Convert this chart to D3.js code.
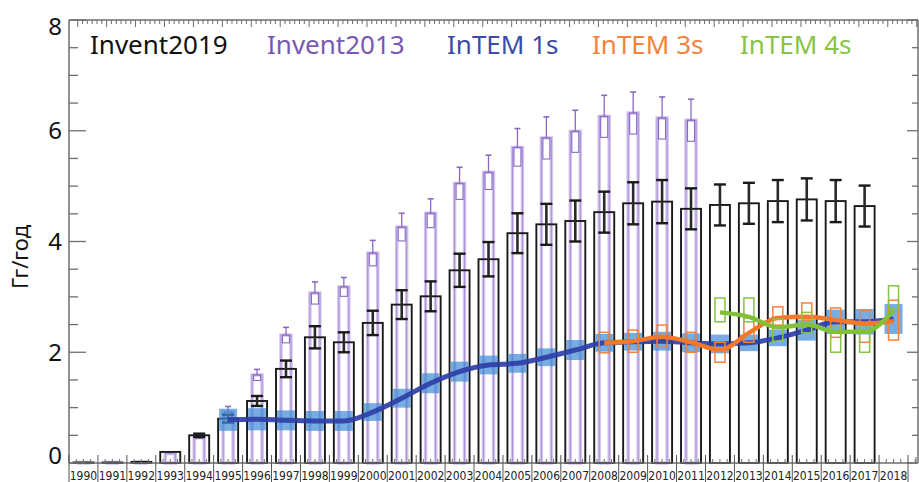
<!DOCTYPE html>
<html>
<head>
<meta charset="utf-8">
<script src="https://cdn.jsdelivr.net/npm/d3@7"></script>
<style>
  html, body { margin: 0; padding: 0; background: #fff; }
  svg { display: block; }
</style>
</head>
<body>
<svg id="chart" width="919" height="482"></svg>
<script>
// Annual emissions (Gg/yr): inventory bars and InTEM inversion estimates
const years = ["1990","1991","1992","1993","1994","1995","1996","1997","1998","1999",
               "2000","2001","2002","2003","2004","2005","2006","2007","2008","2009",
               "2010","2011","2012","2013","2014","2015","2016","2017","2018"];

// Invent2019 (1990–2017)
const invent2019 = [0.01,0.01,0.02,0.2,0.5,0.8,1.12,1.7,2.27,2.18,
                    2.53,2.86,3.01,3.48,3.68,4.15,4.31,4.37,4.53,4.69,
                    4.72,4.59,4.66,4.69,4.73,4.76,4.73,4.64];
const invent2019Err = [0,0,0,0.02,0.03,0.07,0.09,0.15,0.2,0.18,
                       0.22,0.26,0.27,0.3,0.31,0.36,0.37,0.37,0.37,0.38,
                       0.39,0.37,0.37,0.37,0.38,0.38,0.38,0.37];

// Invent2013 (1990–2011)
const invent2013 = [0.01,0.01,0.02,0.17,0.48,0.92,1.59,2.31,3.07,3.18,
                    3.79,4.26,4.51,5.05,5.25,5.7,5.87,5.99,6.26,6.32,
                    6.23,6.19];
const invent2013Err = [0,0,0.01,0.02,0.04,0.1,0.1,0.14,0.2,0.17,
                       0.23,0.25,0.26,0.29,0.31,0.34,0.38,0.38,0.38,0.38,
                       0.38,0.38];

// InTEM 1s (1995–2018)
const intem1sYears = years.slice(5);
const intem1s = [0.78,0.79,0.77,0.76,0.76,0.92,1.17,1.44,1.65,1.77,
                 1.8,1.91,2.04,2.17,2.19,2.2,2.17,2.15,2.17,2.26,
                 2.4,2.55,2.55,2.6];
const intem1sErr = [0.2,0.2,0.18,0.18,0.18,0.16,0.17,0.18,0.18,0.17,
                    0.17,0.16,0.18,0.16,0.16,0.17,0.17,0.17,0.15,0.15,
                    0.19,0.22,0.23,0.27];

// InTEM 3s (2008–2018)
const intem3sYears = years.slice(18);
const intem3s = [2.17,2.2,2.28,2.18,2.04,2.35,2.62,2.64,2.58,2.52,2.56];
const intem3sLow = [1.99,2.0,2.09,2.0,1.82,2.18,2.49,2.58,2.27,2.18,2.22];
const intem3sHigh = [2.36,2.4,2.49,2.36,2.18,2.62,2.82,2.89,2.8,2.76,2.94];

// InTEM 4s (2012–2018)
const intem4sYears = years.slice(22);
const intem4s = [2.72,2.64,2.45,2.5,2.37,2.37,2.76];
const intem4sLow = [2.55,2.55,2.2,2.35,2.0,2.0,2.8];
const intem4sHigh = [2.98,2.98,2.6,2.72,2.45,2.45,3.2];

const yTicks = [0, 2, 4, 6, 8];
const yTitle = "Гг/год";

const legendItems = ["Invent2019", "Invent2013", "InTEM 1s", "InTEM 3s", "InTEM 4s"];
const legendColors = ["#111111", "#7b57b4", "#3b4ba9", "#f4823a", "#86c443"];

// ---- layout ----
const svg = d3.select("#chart");
const plotL = 69, plotR = 918, plotT = 20, plotB = 463, bandR = 908;

const x = d3.scaleBand().domain(years).range([plotL, bandR]).padding(0);
const y = d3.scaleLinear().domain([0, 8]).range([plotB, plotT]);
const bw = x.bandwidth();
const cx = d => x(d) + bw / 2;

const axisColor = "#6e6e6e";

// ---- Invent2013 bars (purple) ----
const g13 = svg.append("g");
invent2013.forEach((v, i) => {
  const c = cx(years[i]);
  const e = invent2013Err[i];
  const h = Math.max(y(0) - y(v), 0.5);
  // soft outer edges
  g13.append("rect").attr("x", c - 5).attr("y", y(v)).attr("width", 10).attr("height", h)
    .attr("fill", "none").attr("stroke", "#d3c6ec").attr("stroke-width", 3.5);
  g13.append("rect").attr("x", c - 5).attr("y", y(v)).attr("width", 10).attr("height", h)
    .attr("fill", "none").attr("stroke", "#a58bd6").attr("stroke-width", 0.9);
  if (e > 0.03) {
    // lower uncertainty as inner box, upper as whisker
    g13.append("rect").attr("x", c - 3.5).attr("y", y(v)).attr("width", 7)
      .attr("height", y(v - e) - y(v))
      .attr("fill", "none").attr("stroke", "#8a69c6").attr("stroke-width", 1.1);
    g13.append("line").attr("x1", c).attr("x2", c).attr("y1", y(v)).attr("y2", y(v + e))
      .attr("stroke", "#8a69c6").attr("stroke-width", 1.3);
    g13.append("line").attr("x1", c - 3).attr("x2", c + 3).attr("y1", y(v + e)).attr("y2", y(v + e))
      .attr("stroke", "#8a69c6").attr("stroke-width", 1.6);
  }
});

// ---- Invent2019 bars (black outline) ----
const g19 = svg.append("g");
const barW = 20;
invent2019.forEach((v, i) => {
  const c = cx(years[i]);
  g19.append("rect").attr("x", c - barW / 2).attr("y", y(v)).attr("width", barW)
    .attr("height", Math.max(y(0) - y(v), 0.5))
    .attr("fill", "none").attr("stroke", "#1a1a1a").attr("stroke-width", 1.9);
});
invent2019.forEach((v, i) => {
  const e = invent2019Err[i];
  if (e < 0.03) return;
  const c = cx(years[i]);
  g19.append("line").attr("x1", c).attr("x2", c).attr("y1", y(v - e)).attr("y2", y(v + e))
    .attr("stroke", "#2a2a2a").attr("stroke-width", 2.6);
  [v - e, v + e].forEach(t => {
    g19.append("line").attr("x1", c - 6).attr("x2", c + 6).attr("y1", y(t)).attr("y2", y(t))
      .attr("stroke", "#1a1a1a").attr("stroke-width", 2.4);
  });
});

// ---- axes frame ----
const gax = svg.append("g");
gax.append("line").attr("x1", plotL).attr("x2", plotL).attr("y1", plotT).attr("y2", plotB)
  .attr("stroke", axisColor).attr("stroke-width", 1.5);
gax.append("line").attr("x1", plotR).attr("x2", plotR).attr("y1", plotT).attr("y2", plotB)
  .attr("stroke", axisColor).attr("stroke-width", 1.5);
gax.append("line").attr("x1", plotL).attr("x2", plotR).attr("y1", plotT).attr("y2", plotT)
  .attr("stroke", axisColor).attr("stroke-width", 1.5);
gax.append("line").attr("x1", plotL).attr("x2", plotR).attr("y1", plotB).attr("y2", plotB)
  .attr("stroke", axisColor).attr("stroke-width", 1.5);

// y ticks: long at labelled values, short every 0.5
d3.range(0, 8.01, 0.5).forEach(t => {
  const major = yTicks.includes(t);
  const len = major ? 17 : 9;
  gax.append("line").attr("x1", plotL).attr("x2", plotL + len).attr("y1", y(t)).attr("y2", y(t))
    .attr("stroke", axisColor).attr("stroke-width", 1.3);
  gax.append("line").attr("x1", plotR).attr("x2", plotR - (major ? 11 : 6)).attr("y1", y(t)).attr("y2", y(t))
    .attr("stroke", axisColor).attr("stroke-width", 1.3);
});

// top ticks: one per year with finer subdivisions
d3.range(0, years.length * 6 + 2).forEach(k => {
  const xx = plotL + 8.7 + k * bw / 6;
  if (xx > plotR - 1) return;
  const major = k % 6 === 0;
  gax.append("line").attr("x1", xx).attr("x2", xx).attr("y1", plotT).attr("y2", plotT + (major ? 7 : 4))
    .attr("stroke", axisColor).attr("stroke-width", 1);
});

// bottom ticks (quarter years) and label cells
d3.range(0, years.length * 4 + 3).forEach(k => {
  const xx = plotL + k * bw / 4;
  if (xx > plotR - 1) return;
  if (k % 4 === 0) return;
  gax.append("line").attr("x1", xx).attr("x2", xx).attr("y1", plotB).attr("y2", plotB - 4)
    .attr("stroke", axisColor).attr("stroke-width", 1);
});
d3.range(0, years.length + 1).forEach(i => {
  const xx = plotL + i * bw;
  gax.append("line").attr("x1", xx).attr("x2", xx).attr("y1", plotB - 8).attr("y2", 482)
    .attr("stroke", "#555").attr("stroke-width", 1);
});
gax.append("line").attr("x1", bandR + 8).attr("x2", bandR + 8).attr("y1", plotB - 6).attr("y2", plotB)
  .attr("stroke", axisColor).attr("stroke-width", 1);

svg.append("g").selectAll("text").data(years).join("text")
  .attr("x", d => cx(d)).attr("y", 480)
  .attr("text-anchor", "middle")
  .attr("font-family", "'Liberation Sans Narrow', 'DejaVu Sans Condensed', sans-serif")
  .attr("font-size", 12).attr("fill", "#222")
  .text(d => d);

// y labels
svg.append("g").selectAll("text").data(yTicks).join("text")
  .attr("x", 62).attr("y", d => y(d))
  .attr("dy", d => d === 8 ? "0.62em" : d === 0 ? "0.05em" : "0.36em")
  .attr("text-anchor", "end")
  .attr("font-family", "'Noto Sans', sans-serif")
  .attr("font-size", 24).attr("fill", "#111")
  .text(d => d);

svg.append("text")
  .attr("transform", "translate(28,257) rotate(-90)")
  .attr("text-anchor", "middle")
  .attr("font-family", "'Noto Sans', sans-serif")
  .attr("font-size", 22).attr("fill", "#111")
  .text(yTitle);

// ---- InTEM 1s: uncertainty boxes + smooth line ----
const g1 = svg.append("g");
g1.selectAll("rect").data(intem1s).join("rect")
  .attr("x", (d, i) => cx(intem1sYears[i]) - 9)
  .attr("y", (d, i) => y(d + intem1sErr[i]))
  .attr("width", 18)
  .attr("height", (d, i) => y(d - intem1sErr[i]) - y(d + intem1sErr[i]))
  .attr("fill", "#3f8ad6").attr("fill-opacity", 0.7);
const line = d3.line().curve(d3.curveMonotoneX);
g1.append("path")
  .attr("d", line(intem1s.map((d, i) => [cx(intem1sYears[i]), y(d)])))
  .attr("fill", "none").attr("stroke", "#2e3fa8").attr("stroke-width", 5)
  .attr("stroke-opacity", 0.92);

// ---- InTEM 3s ----
const g3 = svg.append("g");
g3.selectAll("rect").data(intem3s).join("rect")
  .attr("x", (d, i) => cx(intem3sYears[i]) - 5)
  .attr("y", (d, i) => y(intem3sHigh[i]))
  .attr("width", 10)
  .attr("height", (d, i) => y(intem3sLow[i]) - y(intem3sHigh[i]))
  .attr("fill", "none").attr("stroke", "#f4823a").attr("stroke-width", 1.5);
g3.append("path")
  .attr("d", line(intem3s.map((d, i) => [cx(intem3sYears[i]), y(d)])))
  .attr("fill", "none").attr("stroke", "#f4782a").attr("stroke-width", 4.5);

// ---- InTEM 4s ----
const g4 = svg.append("g");
g4.selectAll("rect").data(intem4s).join("rect")
  .attr("x", (d, i) => cx(intem4sYears[i]) - 5)
  .attr("y", (d, i) => y(intem4sHigh[i]))
  .attr("width", 10)
  .attr("height", (d, i) => y(intem4sLow[i]) - y(intem4sHigh[i]))
  .attr("fill", "none").attr("stroke", "#86c443").attr("stroke-width", 1.5);
g4.append("path")
  .attr("d", line(intem4s.map((d, i) => [cx(intem4sYears[i]), y(d)])))
  .attr("fill", "none").attr("stroke", "#82c03a").attr("stroke-width", 4.5);

// ---- legend ----
const legendX = [90, 267, 447, 592, 740];
svg.append("g").selectAll("text").data(legendItems).join("text")
  .attr("x", (d, i) => legendX[i]).attr("y", 54)
  .attr("font-family", "'Noto Sans', sans-serif")
  .attr("font-size", 26)
  .attr("fill", (d, i) => legendColors[i])
  .text(d => d);
</script>
</body>
</html>
